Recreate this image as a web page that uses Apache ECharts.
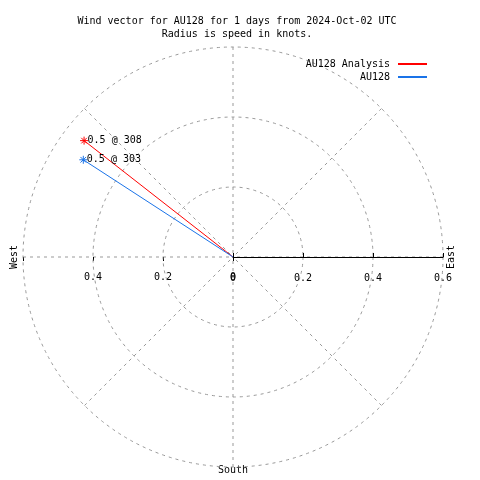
<!DOCTYPE html>
<html>
<head>
<meta charset="utf-8">
<script src="https://cdn.jsdelivr.net/npm/echarts@6/dist/echarts.min.js"></script>
<style>html,body{margin:0;padding:0;background:#fff}#c{width:480px;height:480px}</style>
</head>
<body>
<div id="c"></div>
<script>
// ---- data ----
const seriesNames = ['AU128 Analysis', 'AU128'];
const speeds = [0.54, 0.51];          // knots (radius)
const directions = [308, 303];        // degrees, compass
const pointLabels = ['0.5 @ 308', '0.5 @ 303'];
const seriesColors = ['#ff0000', '#1a73e8'];
const titleLines = ['Wind vector for AU128 for 1 days from 2024-Oct-02 UTC', 'Radius is speed in knots.'];
const compassLabels = ['West', 'East', 'South'];
const radiusMax = 0.6;
const radiusStep = 0.2;

const FONT = 'DejaVu Sans Mono';
const GRID = '#999999';
const CENTER = [233, 257];
const R = 210;

const chart = echarts.init(document.getElementById('c'), null, {renderer: 'canvas'});

function hiddenAngle(i, start) {
  return {polarIndex: i, type: 'value', min: 0, max: 360, startAngle: start,
    axisLine: {show: false}, axisTick: {show: false}, axisLabel: {show: false}, splitLine: {show: false}};
}
function tickRadius(i, inside, labels) {
  return {polarIndex: i, type: 'value', min: 0, max: radiusMax, interval: radiusStep,
    axisLine: {show: false}, splitLine: {show: false},
    axisTick: {show: true, inside: inside, length: 4, lineStyle: {color: '#000', width: 1}},
    axisLabel: labels ? {show: true, margin: 15, color: '#000', fontFamily: FONT, fontSize: 10, showMaxLabel: false} : {show: false}};
}

const star = 'path://M-1,0L1,0M0,-1L0,1M-0.7,-0.7L0.7,0.7M-0.7,0.7L0.7,-0.7';

const series = seriesNames.map((name, k) => ({
  name: name,
  type: 'line',
  coordinateSystem: 'polar',
  polarIndex: 0,
  color: seriesColors[k],
  lineStyle: {color: seriesColors[k], width: 1},
  itemStyle: {color: seriesColors[k], borderColor: seriesColors[k], borderWidth: 1},
  symbol: star,
  symbolSize: 8,
  animation: false,
  z: 5,
  data: [
    {value: [0, directions[k]], symbol: 'none', label: {show: false}},
    {value: [speeds[k], directions[k]], label: {show: true, position: 'right', distance: -1,
      formatter: pointLabels[k], color: '#000', fontFamily: FONT, fontSize: 10}}
  ]
}));

const option = {
  animation: false,
  backgroundColor: '#fff',
  title: {
    text: titleLines.join('\n'),
    left: 232, top: 10, textAlign: 'center',
    textStyle: {fontFamily: FONT, fontSize: 10, fontWeight: 'normal', color: '#000', lineHeight: 13}
  },
  legend: {
    orient: 'vertical', right: 48, top: 54, align: 'right',
    icon: 'rect', itemWidth: 29, itemHeight: 2, itemGap: 3,
    itemStyle: {borderWidth: 0},
    textStyle: {fontFamily: FONT, fontSize: 10, color: '#000', lineHeight: 10, padding: [0, 3, 0, 0]},
    data: seriesNames
  },
  polar: [
    {center: CENTER, radius: R},
    {center: CENTER, radius: R},
    {center: CENTER, radius: R},
    {center: CENTER, radius: R}
  ],
  angleAxis: [
    {polarIndex: 0, type: 'value', min: 90, max: 450, interval: 45, startAngle: 0, clockwise: true,
      axisLine: {show: false}, axisTick: {show: false}, axisLabel: {show: false},
      splitLine: {show: true, lineStyle: {color: GRID, type: [3, 4], width: 1}}},
    hiddenAngle(1, 180),
    hiddenAngle(2, 0),
    hiddenAngle(3, 180)
  ],
  radiusAxis: [
    {polarIndex: 0, type: 'value', min: 0, max: radiusMax, interval: radiusStep, z: 3,
      axisLine: {show: true, lineStyle: {color: '#000', width: 1}},
      axisTick: {show: true, length: 4, lineStyle: {color: '#000'}},
      axisLabel: {show: true, margin: -26, color: '#000', fontFamily: FONT, fontSize: 10, showMinLabel: true, showMaxLabel: true},
      splitLine: {show: true, lineStyle: {color: GRID, type: [3, 4], width: 1}}},
    tickRadius(1, false, true),
    tickRadius(2, true, false),
    tickRadius(3, true, false)
  ],
  graphic: [
    {type: 'text', x: 14, y: 257, rotation: Math.PI / 2,
      style: {text: compassLabels[0], font: '10px ' + FONT, fill: '#000', align: 'center', verticalAlign: 'middle'}},
    {type: 'text', x: 451, y: 257, rotation: Math.PI / 2,
      style: {text: compassLabels[1], font: '10px ' + FONT, fill: '#000', align: 'center', verticalAlign: 'middle'}},
    {type: 'text', x: 233, y: 470,
      style: {text: compassLabels[2], font: '10px ' + FONT, fill: '#000', align: 'center', verticalAlign: 'middle'}}
  ],
  series: series
};
chart.setOption(option);
</script>
</body>
</html>
